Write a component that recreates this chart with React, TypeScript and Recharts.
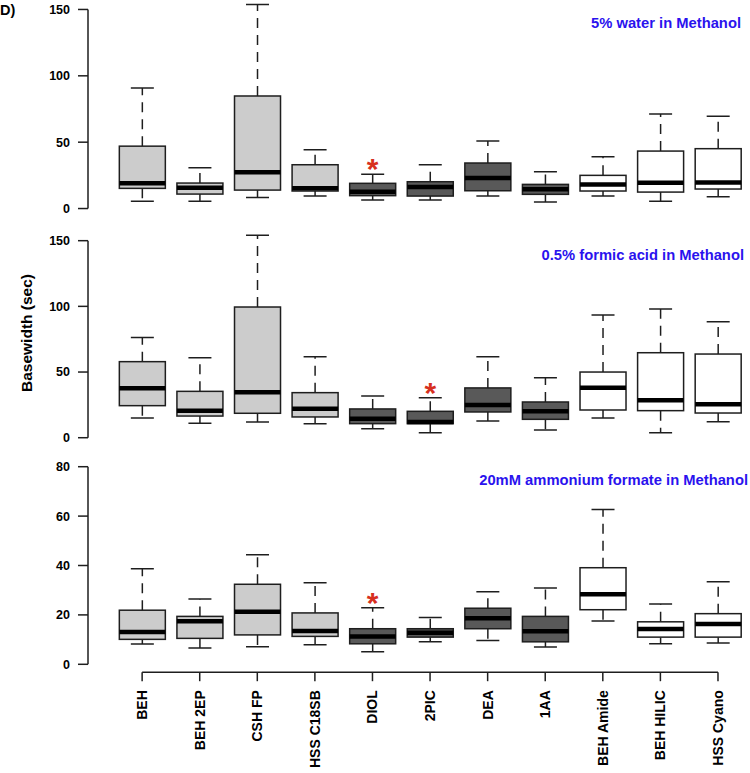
import React from 'react';
import { ComposedChart, Bar, XAxis, YAxis, ReferenceLine } from 'recharts';

// column names (x axis)
const columns = ['BEH', 'BEH 2EP', 'CSH FP', 'HSS C18SB', 'DIOL', '2PIC', 'DEA', '1AA', 'BEH Amide', 'BEH HILIC', 'HSS Cyano'];

// 5% water in Methanol
const waterLow = [5.4, 5.4, 8.4, 9.4, 6.4, 6.4, 9.4, 4.9, 9.4, 5.4, 8.9];
const waterQ1 = [15.2, 10.9, 13.9, 13.2, 9.7, 9.4, 13.4, 10.7, 13.2, 12.4, 14.7];
const waterMedian = [19, 15.7, 27.3, 15.2, 12.7, 16.2, 23, 14.5, 18.2, 19.4, 19.7];
const waterQ3 = [47, 19.2, 84.8, 33, 19, 20.2, 34.3, 18.2, 25, 43.3, 45.1];
const waterHigh = [90.8, 30.8, 153.8, 44.3, 25.8, 33, 50.9, 27.7, 39, 71.2, 69.5];

// 0.5% formic acid in Methanol
const formicLow = [15, 11, 12, 10.7, 6.9, 3.8, 12.7, 5.9, 15, 3.8, 12.2];
const formicQ1 = [24.4, 16.5, 18.6, 15.8, 10.7, 10.7, 19.6, 14, 21.1, 20.6, 18.8];
const formicMedian = [37.6, 20.6, 34.6, 22.1, 14.5, 12, 24.9, 20.1, 38.1, 28.5, 25.4];
const formicQ3 = [57.9, 35.3, 99.5, 34.3, 21.9, 20.1, 37.9, 27.2, 50, 64.7, 63.7];
const formicHigh = [76.2, 60.9, 154.1, 61.7, 31.8, 30.5, 61.7, 45.7, 93.4, 98, 88.3];

// 20mM ammonium formate in Methanol
const ammoniumLow = [8.2, 6.6, 7.1, 7.9, 5.1, 9.1, 9.6, 7, 17.5, 8.3, 8.6];
const ammoniumQ1 = [10.1, 10.5, 11.9, 11.3, 8.3, 11, 14.4, 9.1, 22.1, 11, 11];
const ammoniumMedian = [13.1, 17.4, 21.3, 13.5, 11.3, 12.8, 18.6, 13.4, 28.4, 14.3, 16.3];
const ammoniumQ3 = [21.9, 19.4, 32.4, 20.8, 14.4, 14.4, 22.7, 19.4, 39.1, 17.2, 20.5];
const ammoniumHigh = [38.7, 26.4, 44.4, 33, 22.9, 18.9, 29.4, 30.9, 62.7, 24.4, 33.4];

// marked column in each panel
const waterStar = 'DIOL';
const formicStar = '2PIC';
const ammoniumStar = 'DIOL';

const bigTicks = [0, 50, 100, 150];
const smallTicks = [0, 20, 40, 60, 80];

const columnFill = ['#cccccc', '#cccccc', '#cccccc', '#cccccc', '#595959', '#595959', '#595959', '#595959', '#ffffff', '#ffffff', '#ffffff'];
const ink = '#1e1e1e';
const font = '"Liberation Sans", Arial, Helvetica, sans-serif';

const buildRows = (low: number[], q1: number[], med: number[], q3: number[], high: number[], star: string) =>
  columns.map((name, i) => ({
    pos: i + 1,
    name,
    range: [low[i], high[i]],
    low: low[i],
    q1: q1[i],
    median: med[i],
    q3: q3[i],
    high: high[i],
    star: name === star,
  }));

const BoxShape = (props: any) => {
  const { x, y, width, height, payload, index } = props;
  if (x == null || y == null) return null;
  const top = Math.min(y, y + height);
  const bottom = Math.max(y, y + height);
  const { low, high } = payload;
  const py = (v: number) => bottom - ((v - low) / (high - low)) * (bottom - top);
  const cx = x + width / 2;
  const cap = width / 4;
  const yQ1 = py(payload.q1);
  const yQ3 = py(payload.q3);
  const yMed = py(payload.median);
  return (
    <g>
      <line x1={cx} y1={yQ3} x2={cx} y2={top} stroke={ink} strokeWidth={1.5} strokeDasharray="10 7" />
      <line x1={cx} y1={yQ1} x2={cx} y2={bottom} stroke={ink} strokeWidth={1.5} strokeDasharray="10 7" />
      <line x1={cx - cap} y1={top} x2={cx + cap} y2={top} stroke={ink} strokeWidth={1.5} />
      <line x1={cx - cap} y1={bottom} x2={cx + cap} y2={bottom} stroke={ink} strokeWidth={1.5} />
      <rect x={x} y={yQ3} width={width} height={yQ1 - yQ3} fill={columnFill[index]} stroke={ink} strokeWidth={1.5} />
      <line x1={x} y1={yMed} x2={x + width} y2={yMed} stroke="#000" strokeWidth={4.5} />
      {payload.star && (
        <text x={cx} y={top + 5} textAnchor="middle" fontSize={30} fontWeight="bold" fill="#d7301f" fontFamily={font}>
          *
        </text>
      )}
    </g>
  );
};

const ColumnTick = (props: any) => {
  const { x, y, payload } = props;
  return (
    <text
      x={x}
      y={y}
      transform={`rotate(-90 ${x} ${y})`}
      textAnchor="end"
      dy="0.35em"
      fontSize={14}
      fontWeight="bold"
      fill="#000"
      fontFamily={font}
    >
      {columns[payload.value - 1]}
    </text>
  );
};

const xDomain = [0.06, 11.556];

interface PanelProps {
  rows: any[];
  top: number;
  height: number;
  margin: { top: number; right: number; bottom: number; left: number };
  domain: number[];
  ticks: number[];
  showX?: boolean;
  xHeight?: number;
}

const Panel = ({ rows, top, height, margin, domain, ticks, showX, xHeight }: PanelProps) => (
  <div style={{ position: 'absolute', left: 0, top }}>
    <ComposedChart width={750} height={height} data={rows} margin={margin}>
      <XAxis
        type="number"
        dataKey="pos"
        domain={xDomain}
        allowDataOverflow
        ticks={columns.map((_, i) => i + 1)}
        interval={0}
        hide={!showX}
        height={xHeight}
        axisLine={false}
        tickSize={9}
        tickMargin={9}
        tickLine={{ stroke: ink, strokeWidth: 1.5 }}
        tick={<ColumnTick />}
      />
      <YAxis
        type="number"
        domain={domain}
        allowDataOverflow
        ticks={ticks}
        interval={0}
        width={88}
        axisLine={false}
        tickSize={10}
        tickMargin={8}
        tickLine={{ stroke: ink, strokeWidth: 1.5 }}
        tick={{ fill: '#000', fontSize: 12.5, fontWeight: 'bold', fontFamily: font }}
      />
      <ReferenceLine
        segment={[
          { x: xDomain[0], y: ticks[0] },
          { x: xDomain[0], y: ticks[ticks.length - 1] },
        ]}
        stroke={ink}
        strokeWidth={1.5}
      />
      {showX && (
        <ReferenceLine
          segment={[
            { x: 1, y: domain[0] },
            { x: columns.length, y: domain[0] },
          ]}
          stroke={ink}
          strokeWidth={1.5}
        />
      )}
      <Bar dataKey="range" barSize={46} shape={<BoxShape />} isAnimationActive={false} />
    </ComposedChart>
  </div>
);

export default function App() {
  const waterRows = buildRows(waterLow, waterQ1, waterMedian, waterQ3, waterHigh, waterStar);
  const formicRows = buildRows(formicLow, formicQ1, formicMedian, formicQ3, formicHigh, formicStar);
  const ammoniumRows = buildRows(ammoniumLow, ammoniumQ1, ammoniumMedian, ammoniumQ3, ammoniumHigh, ammoniumStar);

  return (
    <div style={{ position: 'absolute', left: 0, top: 0, width: 750, height: 773, background: '#fff', fontFamily: font }}>
      <Panel rows={waterRows} top={0} height={218} margin={{ top: 1.5, right: 0, bottom: 1.5, left: 0 }} domain={[-6, 156]} ticks={bigTicks} />
      <Panel rows={formicRows} top={230} height={217.6} margin={{ top: 2.8, right: 0, bottom: 2, left: 0 }} domain={[-6, 156]} ticks={bigTicks} />
      <Panel
        rows={ammoniumRows}
        top={455}
        height={318}
        margin={{ top: 3.8, right: 0, bottom: 0, left: 0 }}
        domain={[-3.2, 83.2]}
        ticks={smallTicks}
        showX
        xHeight={100.8}
      />
      <svg width={750} height={773} style={{ position: 'absolute', left: 0, top: 0, pointerEvents: 'none' }}>
        <text x={0} y={14.5} fontSize={14.5} fontWeight="bold" fill="#000" fontFamily={font}>D)</text>
        <text x={741} y={27.5} textAnchor="end" fontSize={14.75} fontWeight="bold" fill="#2a12ee" fontFamily={font}>
          5% water in Methanol
        </text>
        <text x={744} y={259.5} textAnchor="end" fontSize={14.75} fontWeight="bold" fill="#2a12ee" fontFamily={font}>
          0.5% formic acid in Methanol
        </text>
        <text x={748} y={485} textAnchor="end" fontSize={14.75} fontWeight="bold" fill="#2a12ee" fontFamily={font}>
          20mM ammonium formate in Methanol
        </text>
        <text
          x={27}
          y={333}
          transform="rotate(-90 27 333)"
          textAnchor="middle"
          dy="0.35em"
          fontSize={15.5}
          fontWeight="bold"
          fill="#000"
          fontFamily={font}
        >
          Basewidth (sec)
        </text>
      </svg>
    </div>
  );
}
